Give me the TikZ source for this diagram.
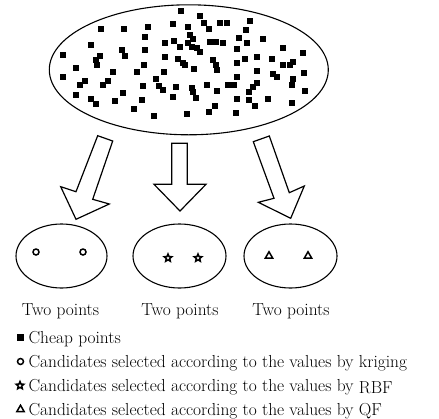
\documentclass[tikz,border=0pt]{standalone}
\usetikzlibrary{shapes.geometric}

\begin{document}
\begin{tikzpicture}[x=1pt, y=-1pt, line width=1.1pt,
    oval/.style={draw, ellipse, inner sep=0pt},
    cand/.style={draw, line width=1.5pt, inner sep=0pt},
    ring/.style={cand, circle, minimum size=6pt},
    starmark/.style={cand, star, star points=5, star point ratio=2.2, minimum size=8pt},
    trimark/.style={cand, regular polygon, regular polygon sides=3, minimum size=8.5pt},
    bigarrow/.style={draw, line width=1.2pt, line join=miter},
    txt/.style={font=\fontsize{17.4}{20}\selectfont, inner sep=0pt}]

    \useasboundingbox (0,0) rectangle (439,418);

    % the pool of cheap points
    \node[oval, minimum width=279pt, minimum height=130pt] (pool) at (188.8,69.8) {};
    \foreach \px/\py in {181/11, 200/16, 204/23, 220/23, 227/23, 250/21, 173/24, 188/27,
        209/29, 246/30, 101/29, 124/29, 148/27, 145/37, 190/35, 193/39, 174/41, 165/43,
        210/42, 216/42, 223/43, 239/38, 247/43, 263/39, 91/45, 188/43, 192/47, 197/48,
        200/52, 180/47, 237/49, 283/48, 63/55, 122/50, 125/56, 145/50, 100/56, 96/60,
        97/65, 165/57, 178/59, 183/63, 185/65, 213/60, 216/65, 217/70, 237/63, 245/59,
        257/57, 272/59, 303/53, 293/62, 290/65, 283/65, 76/68, 144/65, 137/72, 113/72,
        164/72, 194/69, 257/71, 273/74, 277/77, 304/73, 63/77, 85/81, 80/85, 108/81,
        103/85, 156/79, 159/86, 163/90, 143/86, 176/87, 192/88, 193/92, 196/98, 207/85,
        217/91, 228/85, 234/85, 237/77, 257/83, 253/87, 249/92, 293/79, 292/85, 305/91,
        76/95, 123/93, 91/99, 96/104, 115/101, 142/100, 134/109, 173/97, 237/99, 249/100,
        255/106, 268/99, 292/103, 154/116, 187/114, 209/112, 215/106, 236/113}
        \fill (\px-3.3,\py-3.3) rectangle (\px+3.3,\py+3.3);

    % block arrows
    \draw[bigarrow] (97.7,135.7) -- (112.7,141) -- (92.7,199.3) -- (109.3,204)
        -- (76,219.3) -- (60.7,186.7) -- (76,191.7) -- cycle;
    \draw[bigarrow] (171.7,143.3) -- (187.3,143.3) -- (187.3,184.3) -- (206,184.3)
        -- (180,211) -- (154,184.3) -- (171.7,184.3) -- cycle;
    \draw[bigarrow] (253.3,141.7) -- (269.3,136) -- (289.3,192.7) -- (304.3,186)
        -- (290.7,218.3) -- (258.3,202.3) -- (274,198.3) -- cycle;

    % selected candidates
    \node[oval, minimum width=91pt, minimum height=64pt] (krig) at (61.5,256) {};
    \node[oval, minimum width=93pt, minimum height=64pt] (rbf) at (179.5,256) {};
    \node[oval, minimum width=93pt, minimum height=64pt] (qf) at (290.5,256) {};

    \node[ring] (k1) at (36,252) {};
    \node[ring] (k2) at (83,252) {};
    \node[starmark] (r1) at (168,258) {};
    \node[starmark] (r2) at (198,258) {};
    \node[trimark] (q1) at (269,256) {};
    \node[trimark] (q2) at (308,256) {};

    \node[txt, anchor=base] (lk) at (60.5,315) {Two points};
    \node[txt, anchor=base] (lr) at (180,315) {Two points};
    \node[txt, anchor=base] (lq) at (291,315) {Two points};

    % legend
    \fill (17,334) rectangle (23.5,340.5);
    \node[ring] (m2) at (20.5,361.5) {};
    \node[starmark] (m3) at (20,385.5) {};
    \node[trimark] (m4) at (20.5,409.5) {};
    \node[txt, anchor=base west] (t1) at (28,343) {Cheap points};
    \node[txt, anchor=base west] (t2) at (28,367) {Candidates selected according to the values by kriging};
    \node[txt, anchor=base west] (t3) at (28,391) {Candidates selected according to the values by \raisebox{-2pt}{RBF}};
    \node[txt, anchor=base west] (t4) at (28,415) {Candidates selected according to the values by QF};

\end{tikzpicture}
\end{document}
